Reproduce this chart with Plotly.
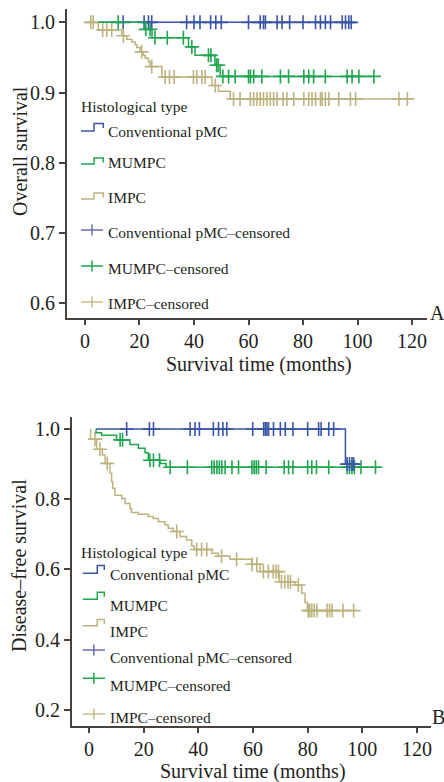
import numpy as np
import plotly.graph_objects as go

# ---------------- DATA ----------------
groups = ["Conventional pMC", "MUMPC", "IMPC"]
x_ticks = [0, 20, 40, 60, 80, 100, 120]

# Panel A: overall survival
os_pmc_start, os_pmc_end = 4.9, 97.7
os_pmc_times = []
os_pmc_surv = []
os_pmc_cens = [14.0, 21.7, 23.3, 24.5, 37.3, 40.0, 42.2, 46.1, 48.0, 50.0, 60.0, 64.3,
               65.5, 66.2, 70.5, 72.3, 75.1, 80.0, 84.6, 86.4, 88.2, 90.1, 94.4, 95.6,
               96.8, 97.7]

os_mum_start, os_mum_end = 4.9, 106.0
os_mum_times = [21.8, 24.6, 38.0, 40.4, 47.7, 49.6]
os_mum_surv = [0.990, 0.978, 0.965, 0.953, 0.939, 0.923]
os_mum_cens = [12.2, 22.3, 23.9, 25.7, 30.2, 36.1, 39.2, 45.3, 46.2, 48.3, 48.9, 50.6,
               52.7, 55.1, 60.0, 60.7, 61.9, 64.9, 71.7, 74.7, 80.3, 82.1, 83.9, 88.2,
               96.2, 98.0, 100.5, 106.0]

os_impc_start, os_impc_end = 1.6, 118.3
os_impc_times = [4.9, 13.5, 15.3, 17.2, 18.4, 19.0, 20.2, 21.4, 22.1, 23.3, 23.9, 28.2,
                 46.6, 49.0, 53.3]
os_impc_surv = [0.989, 0.981, 0.976, 0.972, 0.968, 0.964, 0.958, 0.953, 0.949, 0.944,
                0.937, 0.922, 0.910, 0.902, 0.891]
os_impc_cens = [2.1, 3.0, 6.5, 8.0, 9.8, 14.1, 20.8, 24.5, 29.4, 31.0, 32.7, 39.8, 41.0,
                42.9, 44.1, 47.8, 54.5, 56.9, 60.7, 61.9, 63.1, 64.3, 65.5, 66.8, 68.0,
                69.2, 70.5, 72.7, 74.1, 76.6, 80.3, 82.1, 83.3, 84.6, 86.4, 87.0, 88.2,
                89.5, 93.1, 97.4, 99.3, 115.2, 118.3]

# Panel B: disease-free survival
dfs_pmc_start, dfs_pmc_end = 2.6, 98.5
dfs_pmc_times = [93.8]
dfs_pmc_surv = [0.900]
dfs_pmc_cens = [13.8, 22.1, 23.6, 37.0, 38.8, 40.4, 45.5, 47.4, 49.0, 50.4, 59.9, 63.9,
                64.5, 65.1, 65.7, 67.5, 70.0, 71.8, 74.6, 80.0, 84.0, 84.9, 87.7, 89.5,
                94.4, 95.3, 96.2, 96.8]

dfs_mum_start, dfs_mum_end = 2.6, 106.6
dfs_mum_times = [2.6, 4.6, 10.1, 15.0, 18.1, 20.5, 21.7, 26.0, 28.2]
dfs_mum_surv = [0.989, 0.982, 0.969, 0.956, 0.945, 0.932, 0.911, 0.902, 0.891]
dfs_mum_cens = [11.4, 12.3, 22.3, 23.6, 25.8, 29.7, 36.0, 44.9, 45.8, 46.8, 47.7, 48.6,
                49.8, 52.3, 54.7, 59.6, 60.4, 61.2, 62.0, 64.8, 71.4, 73.0, 74.6, 80.0,
                81.5, 83.2, 87.7, 94.4, 95.3, 96.2, 97.1, 99.5, 104.8]

dfs_impc_start, dfs_impc_end = 0.6, 98.0
dfs_impc_times = [0.6, 2.8, 4.9, 5.9, 7.7, 8.3, 8.7, 9.5, 12.0, 13.2, 15.0, 15.6, 18.0,
                  21.7, 23.5, 25.4, 27.8, 29.0, 30.8, 33.3, 35.7, 37.6, 38.5, 44.9, 47.3,
                  51.6, 59.5, 62.6, 69.6, 75.4, 77.8, 79.0, 79.9]
dfs_impc_surv = [0.971, 0.942, 0.926, 0.902, 0.874, 0.850, 0.831, 0.811, 0.802, 0.788,
                 0.773, 0.762, 0.757, 0.751, 0.745, 0.736, 0.727, 0.717, 0.708, 0.694,
                 0.684, 0.667, 0.657, 0.646, 0.638, 0.629, 0.615, 0.594, 0.565, 0.556,
                 0.532, 0.506, 0.483]
dfs_impc_cens = [2.2, 4.0, 6.7, 32.1, 39.4, 41.2, 43.1, 48.5, 54.0, 59.7, 61.4, 63.8,
                 65.6, 67.4, 68.4, 69.3, 70.4, 71.6, 72.8, 73.7, 76.6, 80.2, 80.7, 81.5,
                 82.4, 83.4, 87.1, 88.0, 88.9, 92.9, 96.8]

# ---------------- STYLE ----------------
W, H = 444, 782
FONT = "Liberation Serif, Times New Roman, serif"
TXT = "#231f20"
AX = "#4a423d"
C_LINE = {"Conventional pMC": "#3b55a6", "MUMPC": "#1fa54f", "IMPC": "#bdb37e"}
C_CENS = {"Conventional pMC": "#6c6db1", "MUMPC": "#1ea34c", "IMPC": "#c6bd8b"}


def px(x, y):
    return x / W, 1 - y / H


def step_xy(start, end, times, surv):
    xs = [start] + list(times) + [end]
    ys = [1.0] + list(surv) + [surv[-1] if len(surv) else 1.0]
    return xs, ys


def level_at(cens, times, surv):
    t = np.asarray(times, dtype=float)
    s = np.concatenate([[1.0], np.asarray(surv, dtype=float)])
    idx = np.searchsorted(t, np.asarray(cens, dtype=float), side="right")
    return s[idx]


fig = go.Figure()


def add_curve(name, start, end, times, surv, cens, xa, ya):
    xs, ys = step_xy(start, end, times, surv)
    fig.add_trace(go.Scatter(x=xs, y=ys, mode="lines", line=dict(color=C_LINE[name], width=1.5, shape="hv"),
                             xaxis=xa, yaxis=ya, showlegend=False, hoverinfo="skip"))
    fig.add_trace(go.Scatter(x=cens, y=level_at(cens, times, surv), mode="markers",
                             marker=dict(symbol="cross-thin", size=10, line=dict(color=C_LINE[name], width=1.6)),
                             xaxis=xa, yaxis=ya, showlegend=False, hoverinfo="skip"))


# Panel A
add_curve("Conventional pMC", os_pmc_start, os_pmc_end, os_pmc_times, os_pmc_surv, os_pmc_cens, "x", "y")
add_curve("IMPC", os_impc_start, os_impc_end, os_impc_times, os_impc_surv, os_impc_cens, "x", "y")
add_curve("MUMPC", os_mum_start, os_mum_end, os_mum_times, os_mum_surv, os_mum_cens, "x", "y")
# Panel B
add_curve("IMPC", dfs_impc_start, dfs_impc_end, dfs_impc_times, dfs_impc_surv, dfs_impc_cens, "x2", "y2")
add_curve("MUMPC", dfs_mum_start, dfs_mum_end, dfs_mum_times, dfs_mum_surv, dfs_mum_cens, "x2", "y2")
add_curve("Conventional pMC", dfs_pmc_start, dfs_pmc_end, dfs_pmc_times, dfs_pmc_surv, dfs_pmc_cens, "x2", "y2")

axis_common = dict(showline=True, linecolor=AX, linewidth=2, ticks="outside", ticklen=6,
                   tickwidth=1.5, tickcolor=AX, showgrid=False, zeroline=False,
                   tickfont=dict(family=FONT, size=20, color=TXT), fixedrange=True)
x_extra = dict(ticklen=5, ticklabelstandoff=-1)

fig.update_layout(
    width=W, height=H, margin=dict(l=0, r=0, t=0, b=0),
    paper_bgcolor="white", plot_bgcolor="white", showlegend=False,
    xaxis=dict(domain=[67 / W, 427 / W], range=[-6.6, 125.5], tickvals=x_ticks, anchor="y",
               **{**axis_common, **x_extra}),
    yaxis=dict(domain=[1 - 318 / H, 1 - 9 / H], range=[0.579, 1.019], tickvals=[0.6, 0.7, 0.8, 0.9, 1.0],
               tickformat=".1f", anchor="x", **axis_common),
    xaxis2=dict(domain=[72 / W, 431 / W], range=[-6.2, 125.1], tickvals=x_ticks, anchor="y2",
                **{**axis_common, **x_extra}),
    yaxis2=dict(domain=[1 - 726 / H, 1 - 417 / H], range=[0.1545, 1.034], tickvals=[0.2, 0.4, 0.6, 0.8, 1.0],
                tickformat=".1f", anchor="x2", **axis_common),
)


def text(x, y, s, size=15.5, anchor="left", angle=0):
    X, Y = px(x, y)
    fig.add_annotation(x=X, y=Y, xref="paper", yref="paper", text=s, showarrow=False,
                       xanchor=anchor, yanchor="middle", textangle=angle,
                       font=dict(family=FONT, size=size, color=TXT))


def path(points, color):
    d = ""
    for i, (x, y) in enumerate(points):
        X, Y = px(x, y)
        d += ("M" if i == 0 else "L") + f"{X:.5f},{Y:.5f} "
    fig.add_shape(type="path", path=d.strip(), xref="paper", yref="paper",
                  line=dict(color=color, width=1.5))


def step_icon(x0, ybot, ytop, color, xmid, x1):
    path([(x0, ybot), (xmid, ybot), (xmid, ytop), (x1, ytop), (x1, ytop + 4.5)], color)


def plus_icon(x0, x1, yc, color):
    path([(x0, yc), (x1, yc)], color)
    xm = (x0 + x1) / 2
    path([(xm, yc - 5.5), (xm, yc + 5.5)], color)


# Axis titles and panel labels
text(20, 151, "Overall survival", size=20, anchor="center", angle=-90)
text(259, 364, "Survival time (months)", size=20, anchor="center")
text(437, 313, "A", size=20, anchor="center")
text(19, 566, "Disease–free survival", size=20, anchor="center", angle=-90)
text(253, 771, "Survival time (months)", size=20, anchor="center")
text(438, 717, "B", size=20, anchor="center")

# Legend A
text(79, 106, "Histological type")
labels = groups + [g + "–censored" for g in groups]
legA_text_y = [131, 163, 197, 232, 268, 303]
legA_icon_y = [(131, 123.5), (164, 158), (199, 193)]
for i, g in enumerate(groups):
    step_icon(81, legA_icon_y[i][0], legA_icon_y[i][1], C_LINE[g], 94, 103.3)
for i, g in enumerate(groups):
    plus_icon(81, 103, [230, 266, 302][i], C_CENS[g])
for lab, y in zip(labels, legA_text_y):
    text(106, y, lab)

# Legend B
text(79, 552, "Histological type")
legB_text_y = [574, 605, 631, 657, 685, 717]
legB_icon_y = [(573.3, 565.5), (599.3, 592.3), (625.7, 619.5)]
for i, g in enumerate(groups):
    step_icon(82.7, legB_icon_y[i][0], legB_icon_y[i][1], C_LINE[g], 97.3, 104.3)
for i, g in enumerate(groups):
    plus_icon(82.7, 105, [650, 678.3, 714][i], C_CENS[g])
for lab, y in zip(labels, legB_text_y):
    text(108, y, lab)

fig.write_html("out.html", config={"displayModeBar": False},
               post_script="document.body.style.margin='0';document.body.style.overflow='hidden';")
